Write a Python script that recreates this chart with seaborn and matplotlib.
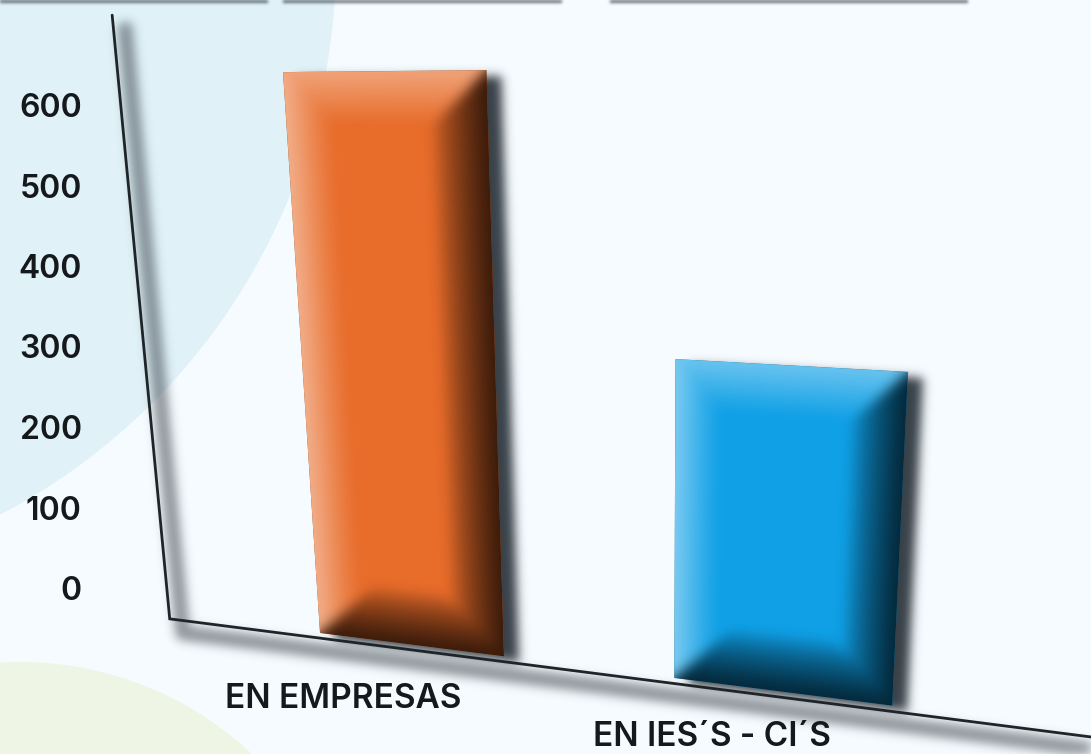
import numpy as np
import pandas as pd
import matplotlib
matplotlib.use('Agg')
import matplotlib.pyplot as plt
import matplotlib.transforms as mtransforms
from matplotlib.patches import Circle
import seaborn as sns

# chart data
categories = ['EN EMPRESAS', "EN IES\u00b4S - CI\u00b4S"]
values = [680, 375]
bar_colors = ['#e86c2a', '#0fa0e6']
tick_values = [0, 100, 200, 300, 400, 500, 600]

W, H = 1091, 754
BAR_WIDTH = 0.54

# perspective of the picture: vanishing points of the category and value directions
VP_X = (-3784, 112)
VP_Y = (655, 5708)
ORIGIN = (410, 644.4)
ALPHA, BETA = -0.0812, -0.1017 / values[0]

PLANE = np.array([
    [ALPHA * VP_X[0], BETA * VP_Y[0], ORIGIN[0]],
    [ALPHA * VP_X[1], BETA * VP_Y[1], ORIGIN[1]],
    [ALPHA, BETA, 1.0],
])


def to_image(u, v):
    q = PLANE @ np.array([u, v, np.ones_like(u)], dtype=float)
    return q[0] / q[2], q[1] / q[2]


class PerspTransform(mtransforms.Transform):
    input_dims = 2
    output_dims = 2

    def transform_non_affine(self, values):
        values = np.asarray(values, dtype=float)
        x, y = to_image(values[:, 0], values[:, 1])
        return np.column_stack([x, H - y])


def blur(a, sigma):
    pad = int(4 * sigma) + 2
    p = np.pad(a, pad)
    fy = np.fft.fftfreq(p.shape[0])[:, None]
    fx = np.fft.rfftfreq(p.shape[1])[None, :]
    g = np.exp(-2 * (np.pi * sigma) ** 2 * (fx ** 2 + fy ** 2))
    out = np.fft.irfft2(np.fft.rfft2(p) * g, s=p.shape)
    return out[pad:-pad, pad:-pad]


def shift(a, dx, dy):
    # move right and down, nothing wraps round
    out = np.zeros_like(a)
    out[dy:, dx:] = a[:a.shape[0] - dy, :a.shape[1] - dx]
    return out


def seg_dist(xx, yy, p0, p1):
    d = np.array(p1) - np.array(p0)
    t = ((xx - p0[0]) * d[0] + (yy - p0[1]) * d[1]) / (d @ d)
    t = np.clip(t, 0, 1)
    return np.hypot(xx - p0[0] - t * d[0], yy - p0[1] - t * d[1])


sns.set_theme(style='white')
plt.rcParams['font.family'] = ['Inter', 'DejaVu Sans']

fig = plt.figure(figsize=(W / 100, H / 100), dpi=100, facecolor='#f5fbfe')
persp = PerspTransform()

# background shapes, in picture pixels
bg = fig.add_axes([0, 0, 1, 1], zorder=0)
bg.set_xlim(0, W)
bg.set_ylim(H, 0)
bg.axis('off')
bg.add_patch(Circle((-290, -40), 626, color='#e0f1f8', lw=0))
bg.add_patch(Circle((20, 1000), 338, color='#eef5e4', lw=0))

# main axes: y ticks are not in perspective, 0 at 588 px and 600 at 105 px
ax = fig.add_axes([86 / W, 0, 1 - 86 / W, 1], zorder=1)
ax.patch.set_visible(False)
df = pd.DataFrame({'cat': categories, 'value': values})
sns.barplot(data=df, x='cat', y='value', hue='cat', palette=bar_colors, width=BAR_WIDTH,
            saturation=1, legend=False, ax=ax)
px_per_unit = (588 - 105) / 600
ax.set_ylim((588 - H) * 1 / px_per_unit, 588 / px_per_unit)
ax.set_xlim(-0.5, 1.5)
ax.set_yticks(tick_values)
ax.set_yticklabels([str(t) for t in tick_values], fontsize=23, fontweight='semibold', color='#15191c')
ax.tick_params(axis='y', length=0, pad=3)
ax.set_xticks([])
ax.set_xlabel('')
ax.set_ylabel('')
sns.despine(ax=ax, left=True, bottom=True)

bars = list(ax.patches)[:len(values)]
for b in bars:
    b.set_transform(persp)
    b.set_clip_on(False)
    b.set_linewidth(0)

# axis lines, in the plane of the bars
axis_u = [-0.75, -0.75, 1.78]
axis_v = [746, -7, -7]
ax.plot(axis_u, axis_v, color='#1e2428', lw=2.0, transform=persp, clip_on=False,
        solid_joinstyle='miter', zorder=5)

# category labels
label_offsets = [(-67, -55), (-69, -46)]
for i, cat in enumerate(categories):
    ax.annotate(cat, xy=(i, 0), xycoords=persp, xytext=label_offsets[i], textcoords='offset pixels',
                ha='center', va='center', fontsize=24, fontweight='semibold', color='#15191c',
                annotation_clip=False)

# pixel grid of the picture and its position in the plane
xx, yy = np.meshgrid(np.arange(W) + 0.5, np.arange(H) + 0.5)
inv = np.linalg.inv(PLANE)
q = inv @ np.array([xx.ravel(), yy.ravel(), np.ones(xx.size)])
uu = (q[0] / q[2]).reshape(xx.shape)
vv = (q[1] / q[2]).reshape(xx.shape)

# shadows
bar_mask = np.zeros((H, W))
over = np.zeros((H, W, 4))
for b in bars:
    x0, x1 = b.get_x(), b.get_x() + b.get_width()
    y0, y1 = b.get_y(), b.get_y() + b.get_height()
    cx, cy = (x0 + x1) / 2, (y0 + y1) / 2
    w_px = abs(to_image(np.array(x1), np.array(y0))[0] - to_image(np.array(x0), np.array(y0))[0])
    h_px = abs(to_image(np.array(cx), np.array(y1))[1] - to_image(np.array(cx), np.array(y0))[1])
    dl = (uu - x0) / (x1 - x0) * w_px
    dr = (x1 - uu) / (x1 - x0) * w_px
    dt = (y1 - vv) / (y1 - y0) * h_px
    db = (vv - y0) / (y1 - y0) * h_px
    dmin = np.minimum.reduce([dl, dr, dt, db])
    inside = np.clip(dmin + 0.5, 0, 1)
    bar_mask = np.maximum(bar_mask, inside)

    # bevel: light on left and top, dark on right and bottom, mitred at the corners
    near = dmin > -25
    light = np.zeros((H, W))
    dark = np.zeros((H, W))
    light[dl == dmin] = (0.46 * np.clip(1 - dl / 46, 0, 1) ** 1.2)[dl == dmin]
    light[dt == dmin] = (0.38 * np.clip(1 - dt / 48, 0, 1) ** 1.0)[dt == dmin]
    dark[dr == dmin] = (0.76 * np.clip(1 - dr / 50, 0, 1) ** 0.7)[dr == dmin]
    dark[db == dmin] = (0.76 * np.clip(1 - db / 60, 0, 1) ** 0.7)[db == dmin]
    light = blur(light * near, 6)
    dark = blur(dark * near, 6)
    a = np.clip(light + dark, 0, 1)
    grey = np.where(a > 0, light / np.maximum(a, 1e-6), 0)
    for k in range(3):
        over[..., k] += grey * inside
    over[..., 3] += a * inside

shadow_bar = blur(shift(bar_mask, 15, 6), 5) * 0.92

ax_x, ax_y = to_image(np.array(axis_u, dtype=float), np.array(axis_v, dtype=float))
line_d = np.minimum(seg_dist(xx, yy, (ax_x[0], ax_y[0]), (ax_x[1], ax_y[1])),
                    seg_dist(xx, yy, (ax_x[1], ax_y[1]), (ax_x[2], ax_y[2])))
shadow_axis = blur(shift((line_d < 7.5).astype(float), 13, 14), 5) * 0.5

strip = np.zeros((H, W))
strip[:3, :268] = 1
strip[:3, 283:562] = 1
strip[:3, 610:968] = 1
shadow_strip = blur(strip, 1.5) * 0.7

shadow = 1 - (1 - shadow_bar) * (1 - shadow_axis) * (1 - shadow_strip)
shadow_rgba = np.zeros((H, W, 4))
shadow_rgba[..., 0] = 40 / 255
shadow_rgba[..., 1] = 48 / 255
shadow_rgba[..., 2] = 56 / 255
shadow_rgba[..., 3] = shadow
bg.imshow(shadow_rgba, extent=(0, W, H, 0), aspect='auto', zorder=3, interpolation='nearest')
bg.set_xlim(0, W)
bg.set_ylim(H, 0)

top = fig.add_axes([0, 0, 1, 1], zorder=2)
top.axis('off')
top.imshow(np.clip(over, 0, 1), extent=(0, W, H, 0), aspect='auto', interpolation='nearest')
top.set_xlim(0, W)
top.set_ylim(H, 0)

fig.savefig('out.png', dpi=100, facecolor=fig.get_facecolor())
